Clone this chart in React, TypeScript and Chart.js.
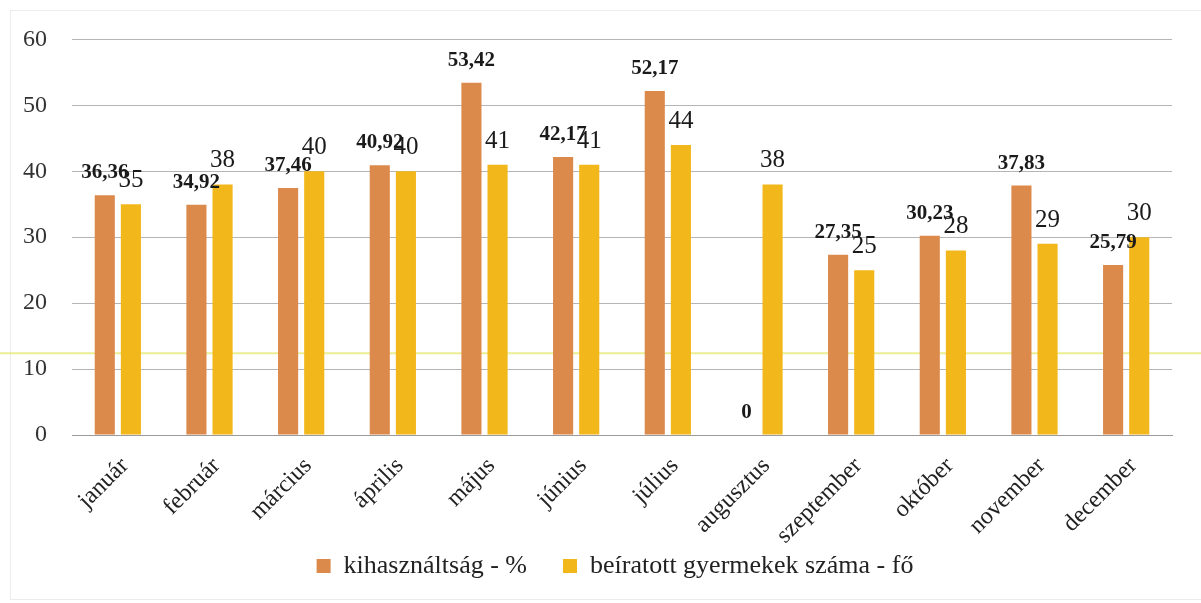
import React, { useEffect, useRef } from "react";
import { Chart, registerables } from "chart.js";

Chart.register(...registerables);

const months = ["január", "február", "március", "április", "május", "június", "július", "augusztus", "szeptember", "október", "november", "december"];
const utilization = [36.36, 34.92, 37.46, 40.92, 53.42, 42.17, 52.17, 0, 27.35, 30.23, 37.83, 25.79];
const enrolled = [35, 38, 40, 40, 41, 41, 44, 38, 25, 28, 29, 30];
const yTicks = [0, 10, 20, 30, 40, 50, 60];

const ORANGE = "#DC8A4C";
const YELLOW = "#F2B71B";
const FONT = "'Liberation Serif', 'DejaVu Serif', serif";

const labelPlugin = {
  id: "barLabels",
  afterDatasetsDraw(chart: any) {
    const ctx = chart.ctx;
    ctx.save();
    ctx.fillStyle = "#1a1a1a";
    ctx.textAlign = "center";
    ctx.textBaseline = "alphabetic";
    chart.data.datasets.forEach((ds: any, di: number) => {
      const meta = chart.getDatasetMeta(di);
      meta.data.forEach((bar: any, i: number) => {
        const v = ds.data[i];
        const txt = di === 0 ? (v === 0 ? "0" : v.toFixed(2).replace(".", ",")) : String(v);
        ctx.font = di === 0 ? `bold 21px ${FONT}` : `25px ${FONT}`;
        ctx.fillText(txt, bar.x, bar.y - 17);
      });
    });
    ctx.restore();
  },
};

const decoPlugin = {
  id: "deco",
  afterLayout(chart: any) {
    const lg = chart.legend;
    if (lg) {
      const h = lg.height;
      lg.left += 29;
      lg.right += 29;
      lg.top = 517;
      lg.bottom = 517 + h;
    }
  },
  beforeDraw(chart: any) {
    const ctx = chart.ctx;
    ctx.save();
    ctx.strokeStyle = "#ececec";
    ctx.lineWidth = 1;
    ctx.strokeRect(10.5, 10.5, chart.width + 10, 589);
    ctx.restore();
  },
  beforeDatasetsDraw(chart: any) {
    const ctx = chart.ctx;
    const y = chart.scales.y.getPixelForValue(12.4);
    ctx.save();
    ctx.strokeStyle = "rgba(228,232,110,0.75)";
    ctx.lineWidth = 2;
    ctx.beginPath();
    ctx.moveTo(0, y);
    ctx.lineTo(chart.width, y);
    ctx.stroke();
    ctx.restore();
  },
};

export default function App() {
  const ref = useRef<HTMLCanvasElement>(null);
  useEffect(() => {
    document.body.style.margin = "0";
    const chart = new Chart(ref.current!, {
      type: "bar",
      data: {
        labels: months,
        datasets: [
          { label: "kihasználtság - %", data: utilization, backgroundColor: ORANGE, categoryPercentage: 0.57, barPercentage: 0.77 },
          { label: "beíratott gyermekek száma - fő", data: enrolled, backgroundColor: YELLOW, categoryPercentage: 0.57, barPercentage: 0.77 },
        ],
      },
      options: {
        animation: false,
        responsive: false,
        layout: { autoPadding: false, padding: { top: 33, right: 29, left: 0, bottom: -20 } },
        plugins: {
          tooltip: { enabled: false },
          legend: {
            position: "bottom",
            labels: {
              boxWidth: 14,
              boxHeight: 14,
              padding: 36,
              color: "#222",
              font: { family: FONT, size: 26 },
            },
          },
        },
        scales: {
          x: {
            grid: { display: false },
            border: { color: "#9a9a9a" },
            ticks: {
              maxRotation: 45,
              minRotation: 45,
              color: "#222",
              font: { family: FONT, size: 24 },
              padding: 9,
              labelOffset: 7,
            },
            afterFit(s: any) { s.height = 116; },
          },
          y: {
            min: 0,
            max: 60,
            afterBuildTicks(s: any) { s.ticks = yTicks.map((v) => ({ value: v })); },
            grid: { color: "#b5b5b5", drawTicks: false },
            border: { display: false },
            ticks: { color: "#333", font: { family: FONT, size: 24 }, padding: 25 },
            afterFit(s: any) { s.width = 72; },
          },
        },
      },
      plugins: [decoPlugin, labelPlugin],
    });
    return () => chart.destroy();
  }, []);
  return (
    <div style={{ width: 1201, height: 603, background: "#fff" }}>
      <canvas ref={ref} width={1201} height={603} />
    </div>
  );
}
